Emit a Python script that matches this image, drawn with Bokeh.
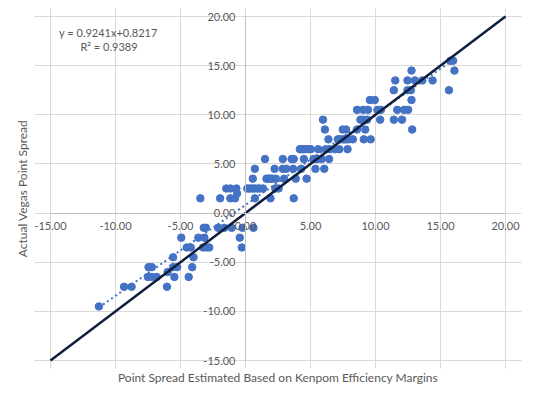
from bokeh.plotting import figure
from bokeh.models import LinearAxis, FixedTicker, NumeralTickFormatter, Label, Grid
from bokeh.embed import file_html
from bokeh.resources import INLINE

# ---- data ----
axis_ticks = [-15, -10, -5, 0, 5, 10, 15, 20]

# Actual Vegas spread levels and the Kenpom estimates of the games at each level
vegas_levels = [15.5, 14.5, 13.5, 12.5, 11.5, 10.5, 9.5, 8.5, 7.5, 6.5,
                5.5, 4.5, 3.5, 2.5, 2.0, 1.5, -1.5, -2.5, -3.5, -4.5,
                -5.5, -6.0, -6.5, -7.5, -9.5]
kenpom_rows = [
    [15.76, 15.97],
    [12.77, 16.07],
    [11.52, 12.46, 13.03, 13.6, 14.39],
    [11.41, 12.46, 12.72, 15.65],
    [9.57, 9.94, 12.77],
    [8.58, 9.05, 9.42, 10.15, 10.41, 11.67, 12.2, 12.51],
    [5.96, 8.84, 9.05, 9.36, 10.36, 11.41, 12.04],
    [6.11, 7.48, 7.74, 8.58, 9.21, 12.82],
    [6.38, 7.1, 7.27, 7.48, 7.6, 7.74, 7.95, 8.26, 9.1, 9.63],
    [4.18, 4.3, 4.44, 4.6, 4.81, 5.02, 5.59, 6.17, 6.48, 6.9, 7.22, 7.85],
    [1.5, 2.87, 3.55, 3.71, 4.49, 5.23, 5.4, 5.54, 5.86, 6.43],
    [0.72, 2.24, 2.87, 3.13, 3.66, 4.28, 5.38, 6.06],
    [0.56, 1.61, 1.7, 1.82, 1.95, 2.08, 2.34, 2.97, 3.86, 4.7],
    [-1.48, -1.17, -0.7, 0.14, 0.3, 0.51, 0.7, 0.93, 1.1, 1.35, 2.29, 2.55],
    [-0.65],
    [-3.47, -1.95, -1.17, -0.8, 0.72, 1.92, 3.71],
    [-3.21, -3.05, -2.11, -1.64, -1.06, -0.23, 0.61],
    [-4.94, -3.63, -3.16, -0.44],
    [-4.52, -4.21, -3.26, -3.0, -2.79, -0.28],
    [-5.57, -4.0],
    [-7.46, -7.2, -5.57, -5.26, -4.1],
    [-5.99],
    [-7.51, -7.2, -6.83, -5.47, -4.37],
    [-9.34, -8.76, -6.04],
    [-11.28],
]

trend_slope = 0.9241
trend_intercept = 0.8217
r_squared = 0.9389

x_title = "Point Spread Estimated Based on Kenpom Efficiency Margins"
y_title = "Actual Vegas Point Spread"

kenpom_x = [v for row in kenpom_rows for v in row]
vegas_y = [lvl for lvl, row in zip(vegas_levels, kenpom_rows) for _ in row]

FONT = "Lato"
TXT = "#595959"
lo, hi = axis_ticks[0], axis_ticks[-1]

# frame is a little larger than the -15..20 chart area so edge tick labels are not clipped
PX_X = 13.0           # pixels per unit, x
PX_Y = 344.0 / 35.0   # pixels per unit, y
p = figure(width=525, height=391,
           x_range=(lo - 16 / PX_X, hi + 16 / PX_X),
           y_range=(lo - 8 / PX_Y, hi + 8 / PX_Y),
           output_backend="svg", toolbar_location=None,
           x_axis_location=None, y_axis_location=None,
           min_border_left=34, min_border_right=4,
           min_border_top=8, min_border_bottom=23)
p.outline_line_color = None
p.background_fill_color = "white"
p.border_fill_color = "white"

p.add_layout(Grid(dimension=0, ticker=FixedTicker(ticks=axis_ticks),
                  grid_line_color="#d9d9d9", bounds=(lo, hi)))
p.add_layout(Grid(dimension=1, ticker=FixedTicker(ticks=axis_ticks),
                  grid_line_color="#d9d9d9", bounds=(lo, hi)))

def tick_axis(**kw):
    return LinearAxis(fixed_location=0, ticker=FixedTicker(ticks=axis_ticks),
                      bounds=(lo, hi),
                      formatter=NumeralTickFormatter(format="0.00"),
                      axis_line_color="#bfbfbf", axis_line_width=1,
                      major_tick_line_color=None, minor_tick_line_color=None,
                      major_tick_out=0, major_tick_in=0, minor_tick_out=0,
                      major_label_text_font=FONT, major_label_text_color=TXT,
                      major_label_text_font_size="11px", **kw)

p.add_layout(tick_axis(major_label_standoff=9), "below")
p.add_layout(tick_axis(major_label_standoff=10), "left")

def title_axis(label, standoff):
    return LinearAxis(ticker=FixedTicker(ticks=[]), axis_label=label,
                      axis_line_color=None, major_tick_line_color=None,
                      minor_tick_line_color=None, major_tick_out=0, minor_tick_out=0,
                      major_label_text_font_size="0px", major_label_standoff=0,
                      axis_label_standoff=standoff, axis_label_text_font=FONT,
                      axis_label_text_color=TXT, axis_label_text_font_size="12px",
                      axis_label_text_font_style="normal")

p.add_layout(title_axis(x_title, 1), "below")
p.add_layout(title_axis(y_title, 5), "left")

p.scatter(kenpom_x, vegas_y, size=7.5, fill_color="#4472C4", line_color="#4472C4")

tx = [min(kenpom_x), max(kenpom_x)]
ty = [trend_slope * v + trend_intercept for v in tx]
p.line(tx, ty, line_color="#4472C4", line_width=2, line_dash="2 3")

# y = x reference line across the chart area
p.line([lo, hi], [lo, hi], line_color="#0f1f3d", line_width=2.5)

p.add_layout(Label(x=-10.55, y=18.35, text=f"y = {trend_slope}x+{trend_intercept}",
                   text_font=FONT, text_color=TXT, text_font_size="11px",
                   text_align="center", text_baseline="middle"))
p.add_layout(Label(x=-10.5, y=16.9, text=f"R² = {r_squared}",
                   text_font=FONT, text_color=TXT, text_font_size="11px",
                   text_align="center", text_baseline="middle"))

open("out.html", "w").write(file_html(p, INLINE))
